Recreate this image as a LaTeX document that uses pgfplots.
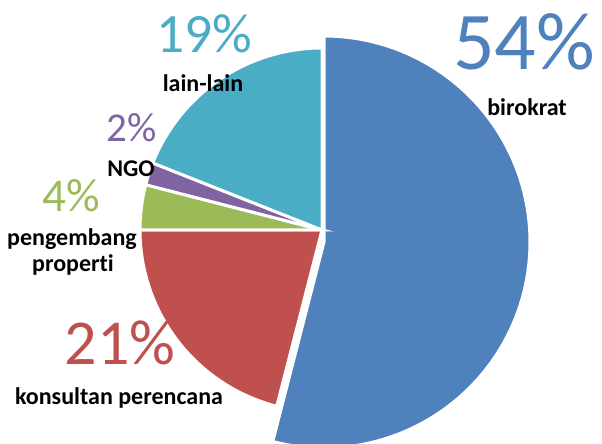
\documentclass[border=0pt]{standalone}
\usepackage{pgfplots}
\pgfplotsset{compat=1.18}
\usepackage{fontspec}
\setmainfont{Carlito}[Ligatures={NoCommon}]
\definecolor{pieblue}{HTML}{4F81BD}
\definecolor{piered}{HTML}{C0504D}
\definecolor{piegreen}{HTML}{9BBB59}
\definecolor{piepurple}{HTML}{8064A2}
\definecolor{pieaqua}{HTML}{4BACC6}
% shares (percent): birokrat 54, konsultan perencana 21, pengembang properti 4, NGO 2, lain-lain 19
% angles: 1% = 3.6 degrees, clockwise from 90
\begin{document}
\begin{tikzpicture}
\begin{axis}[hide axis, scale only axis, width=602pt, height=444pt,
  xmin=0, xmax=602, ymin=0, ymax=444, clip=false]
% birokrat 54% (exploded)
\addplot[draw=white, line width=3pt, fill=pieblue, domain=-104.4:90, samples=100, variable=\t]
  ({324+206*cos(\t)}, {202+206*sin(\t)}) -- (axis cs:324,202) -- cycle;
% konsultan perencana 21%
\addplot[draw=white, line width=3pt, fill=piered, domain=180:255.6, samples=50, variable=\t]
  ({322+182*cos(\t)}, {214+182*sin(\t)}) -- (axis cs:322,214) -- cycle;
% pengembang properti 4%
\addplot[draw=white, line width=3pt, fill=piegreen, domain=165.6:180, samples=20, variable=\t]
  ({322+182*cos(\t)}, {214+182*sin(\t)}) -- (axis cs:322,214) -- cycle;
% NGO 2%
\addplot[draw=white, line width=3pt, fill=piepurple, domain=158.4:165.6, samples=12, variable=\t]
  ({322+182*cos(\t)}, {214+182*sin(\t)}) -- (axis cs:322,214) -- cycle;
% lain-lain 19%
\addplot[draw=white, line width=3pt, fill=pieaqua, domain=90:158.4, samples=50, variable=\t]
  ({322+182*cos(\t)}, {214+182*sin(\t)}) -- (axis cs:322,214) -- cycle;
% labels
\node[anchor=base, inner sep=0pt, text=pieblue, font=\fontsize{82}{82}\selectfont] at (axis cs:524,374) {54\%};
\node[anchor=base, inner sep=0pt, font=\fontsize{24}{24}\selectfont\bfseries] at (axis cs:527,328) {birokrat};
\node[anchor=base, inner sep=0pt, text=pieaqua, font=\fontsize{55.5}{55.5}\selectfont] at (axis cs:204,391) {19\%};
\node[anchor=base, inner sep=0pt, font=\fontsize{24}{24}\selectfont\bfseries] at (axis cs:203,352) {lain-lain};
\node[anchor=base, inner sep=0pt, text=piepurple, font=\fontsize{41}{41}\selectfont] at (axis cs:132,302) {2\%};
\node[anchor=base, inner sep=0pt, font=\fontsize{24}{24}\selectfont\bfseries] at (axis cs:131,267) {NGO};
\node[anchor=base, inner sep=0pt, text=piegreen, font=\fontsize{47}{47}\selectfont] at (axis cs:71,232) {4\%};
\node[anchor=base, inner sep=0pt, font=\fontsize{24}{24}\selectfont\bfseries] at (axis cs:72,198) {pengembang};
\node[anchor=base, inner sep=0pt, font=\fontsize{24}{24}\selectfont\bfseries] at (axis cs:73,172) {properti};
\node[anchor=base, inner sep=0pt, text=piered, font=\fontsize{64}{64}\selectfont] at (axis cs:120,79) {21\%};
\node[anchor=base, inner sep=0pt, font=\fontsize{24}{24}\selectfont\bfseries] at (axis cs:119,39) {konsultan perencana};
\end{axis}
\pgfresetboundingbox
\path (current axis.south west) rectangle (current axis.north east);
\end{tikzpicture}
\end{document}
